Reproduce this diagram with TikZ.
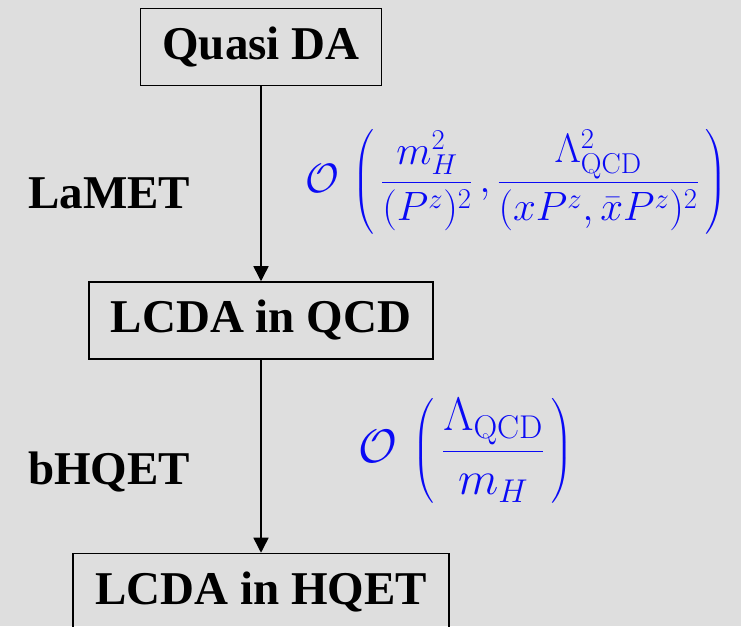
\RequirePackage{fix-cm}
\documentclass[tikz,border=0pt]{standalone}
\usepackage{exscale}
\usepackage{fontspec}
\newfontfamily\labelfont{Liberation Serif}
\usetikzlibrary{positioning,arrows.meta}
\definecolor{bggray}{RGB}{222,222,222}
\definecolor{eqblue}{RGB}{10,10,245}

\begin{document}
\begin{tikzpicture}[
			x=1pt, y=1pt,
			block/.style={rectangle, draw, line width=1.5pt, inner xsep=22pt, minimum height=77pt, font=\labelfont\bfseries\fontsize{47}{56}\selectfont},
			method/.style={anchor=base west, inner sep=0pt, font=\labelfont\bfseries\fontsize{47}{56}\selectfont},
			order/.style={anchor=west, inner sep=0pt, text=eqblue},
			arrow/.style={-{Triangle[width=15pt,length=15pt]}, line width=1.5pt}
			]
			
			\fill[bggray] (0,0) rectangle (741,626);
			\useasboundingbox (0,0) rectangle (741,626);
			
			% Quasi DA
			\node[block] (quasi) at (261,579) {Quasi DA};
			
			% LCDA in QCD
			\node[block, below=195pt of quasi] (qcd) {LCDA in QCD};
			
			% LCDA in HQET
			\node[block, below=193pt of qcd] (hqet) {LCDA in HQET};
			
			% Matching steps
			\node[method] (lamet) at (28,417) {LaMET};
			\node[method] (bhqet) at (28,141) {bHQET};
			
			% Power corrections
			\node[order, font=\fontsize{41}{49}\selectfont] (corr1) at (305,444) {$\displaystyle \mathcal{O}\,\left(\,\frac{m_H^2}{(P^z)^2}\,,\frac{\Lambda_{\mathrm{QCD}}^2}{(xP^z,\bar{x}P^z)^2}\,\right)$};
			\node[order, font=\fontsize{47}{56}\selectfont] (corr2) at (358,175) {$\displaystyle \mathcal{O}\,\left(\,\frac{\Lambda_{\mathrm{QCD}}}{m_H}\,\right)$};
			
			% Arrows
			\draw[arrow] (quasi) -- (qcd);
			\draw[arrow] (qcd) -- (hqet);
			
		\end{tikzpicture}
\end{document}
